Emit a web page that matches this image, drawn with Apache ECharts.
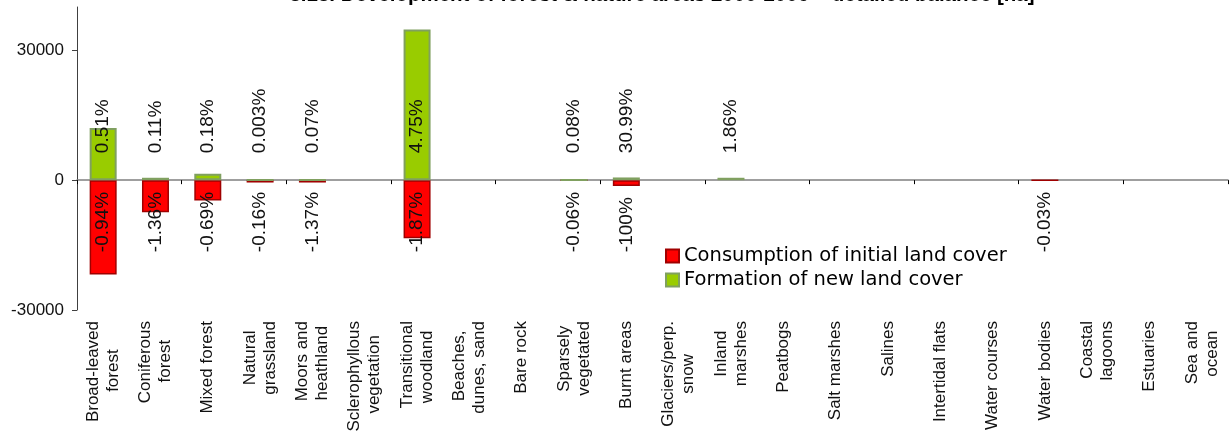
<!DOCTYPE html>
<html>
<head>
<meta charset="utf-8">
<script src="https://cdn.jsdelivr.net/npm/echarts@6/dist/echarts.min.js"></script>
<style>
html,body{margin:0;padding:0;background:#fff;}
#chart{width:1230px;height:437px;}
</style>
</head>
<body>
<div id="chart"></div>
<script>
const titleText = '3.13. Development of forest & nature areas 2000-2006 \u2013 detailed balance [ha]';
const categories = [
  'Broad-leaved\nforest', 'Coniferous\nforest', 'Mixed forest', 'Natural\ngrassland',
  'Moors and\nheathland', 'Sclerophyllous\nvegetation', 'Transitional\nwoodland',
  'Beaches,\ndunes, sand', 'Bare rock', 'Sparsely\nvegetated', 'Burnt areas',
  'Glaciers/perp.\nsnow', 'Inland\nmarshes', 'Peatbogs', 'Salt marshes', 'Salines',
  'Intertidal flats', 'Water courses', 'Water bodies', 'Coastal\nlagoons', 'Estuaries',
  'Sea and\nocean'
];
const seriesNames = ['Consumption of initial land cover', 'Formation of new land cover'];
const consumption = [-21800, -7400, -4700, -550, -550, null, -13450, null, null, -15, -1380, null,
  null, null, null, null, null, null, -10, null, null, null];
const formation = [12050, 550, 1450, 10, 40, null, 34800, null, null, 15, 620, null,
  550, null, null, null, null, null, null, null, null, null];
const formationPct = ['0.51%', '0.11%', '0.18%', '0.003%', '0.07%', '', '4.75%', '', '', '0.08%', '30.99%', '',
  '1.86%', '', '', '', '', '', '', '', '', ''];
const consumptionPct = ['-0.94%', '-1.36%', '-0.69%', '-0.16%', '-1.37%', '', '-1.87%', '', '', '-0.06%', '-100%', '',
  '', '', '', '', '', '', '-0.03%', '', '', ''];
const yTicks = [-30000, 0, 30000];
const yMin = -30000, yMax = 40000;

const axisFont = 'Liberation Sans, Arial, sans-serif';
const catFontSize = 17;

// centre the shorter line of a two-line category label on the longer one
// (labels are right-aligned after rotation, so trailing no-break spaces push a short line to the middle)
const measureCtx = document.createElement('canvas').getContext('2d');
measureCtx.font = catFontSize + 'px ' + axisFont;
const nbspW = measureCtx.measureText('\u00a0').width || (catFontSize * 0.278);
function centreLines(v) {
  const lines = v.split('\n');
  const widths = lines.map(function (l) { return measureCtx.measureText(l).width; });
  const w = Math.max.apply(null, widths);
  return lines.map(function (l, j) {
    const n = Math.round((w - widths[j]) / 2 / nbspW);
    return l + '\u00a0'.repeat(n);
  }).join('\n');
}

const chart = echarts.init(document.getElementById('chart'), null, {renderer: 'canvas'});

const option = {
  animation: false,
  backgroundColor: '#ffffff',
  title: {
    text: titleText,
    left: 657,
    textAlign: 'center',
    top: -20,
    textStyle: {fontFamily: axisFont, fontWeight: 'bold', fontSize: 20.5, color: '#000'}
  },
  legend: {
    orient: 'vertical',
    left: 665,
    top: 246,
    padding: 0,
    itemWidth: 13,
    itemHeight: 13,
    itemGap: 4,
    icon: 'rect',
    data: seriesNames,
    textStyle: {fontFamily: 'DejaVu Sans, Verdana, sans-serif', fontSize: 19.5, lineHeight: 18, color: '#000'}
  },
  grid: {left: 77, right: 2, top: 7, bottom: 127, containLabel: false},
  xAxis: [
    {
      type: 'category',
      data: categories,
      position: 'bottom',
      axisLine: {show: true, onZero: true, lineStyle: {color: '#808080', width: 1.5}},
      axisTick: {show: true, length: 4, alignWithLabel: false, lineStyle: {color: '#000', width: 1}},
      axisLabel: {show: false},
      splitLine: {show: false}
    },
    {
      type: 'category',
      data: categories,
      position: 'bottom',
      axisLine: {show: false, onZero: false},
      axisTick: {show: false},
      splitLine: {show: false},
      axisLabel: {
        show: true,
        interval: 0,
        rotate: 90,
        margin: 11,
        formatter: centreLines,
        fontFamily: axisFont,
        fontSize: catFontSize,
        lineHeight: 20,
        color: '#111'
      }
    }
  ],
  yAxis: {
    type: 'value',
    min: yMin,
    max: yMax,
    axisLine: {show: true, lineStyle: {color: '#404040', width: 1}},
    axisTick: {show: true, length: 5, customValues: yTicks, lineStyle: {color: '#404040'}},
    axisLabel: {
      customValues: yTicks,
      margin: 13,
      formatter: function (v) { return String(v); },
      fontFamily: axisFont,
      fontSize: 17,
      color: '#111'
    },
    splitLine: {show: false}
  },
  series: [
    {
      name: seriesNames[0],
      type: 'bar',
      xAxisIndex: 0,
      stack: 'balance',
      barWidth: 27,
      data: consumption,
      itemStyle: {color: '#ff0000', borderColor: '#a00000', borderWidth: 1.5},
      z: 2
    },
    {
      name: seriesNames[1],
      type: 'bar',
      xAxisIndex: 0,
      stack: 'balance',
      barWidth: 27,
      data: formation,
      itemStyle: {color: '#99cc00', borderColor: '#80a060', borderWidth: 2},
      z: 2
    },
    {
      name: 'labels',
      type: 'custom',
      xAxisIndex: 0,
      z: 5,
      silent: true,
      data: categories.map(function (c, i) { return [i, 0]; }),
      renderItem: function (params, api) {
        const i = params.dataIndex;
        const p = api.coord([api.value(0), 0]);
        const children = [];
        const font = '19px ' + axisFont;
        if (formationPct[i]) {
          children.push({
            type: 'text', x: p[0], y: p[1] - 27, rotation: Math.PI / 2,
            style: {text: formationPct[i], align: 'left', verticalAlign: 'middle', font: font, fill: '#111'}
          });
        }
        if (consumptionPct[i]) {
          children.push({
            type: 'text', x: p[0], y: p[1] + 72, rotation: Math.PI / 2,
            style: {text: consumptionPct[i], align: 'left', verticalAlign: 'middle', font: font, fill: '#111'}
          });
        }
        return {type: 'group', children: children};
      }
    }
  ]
};
chart.setOption(option);
</script>
</body>
</html>
